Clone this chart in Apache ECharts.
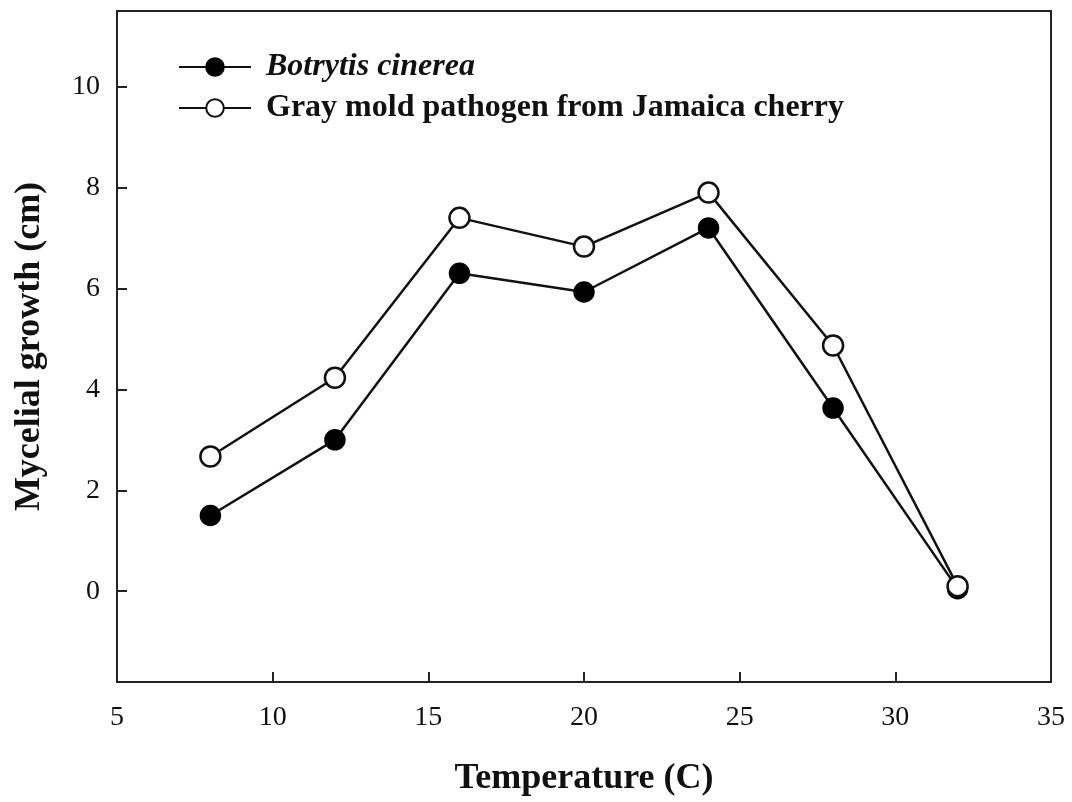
<!DOCTYPE html>
<html lang="en">
<head>
  <meta charset="UTF-8">
  <title>Mycelial growth vs temperature - ECharts</title>
  <script src="https://cdn.jsdelivr.net/npm/echarts@6.0.0/dist/echarts.min.js"></script>
  <style>
    body { margin: 0; background: #fff; }
  </style>
</head>
<body>
  <!-- Chart container -->
  <div id="main" style="width: 1072px; height: 802px;"></div>

  <script>
    // Temperatures (C) and growth values
    const temperatures = [8, 12, 16, 20, 24, 28, 32];
    const botrytisGrowth = [1.5, 3.0, 6.3, 5.93, 7.2, 3.63, 0.05];
    const jamaicaGrowth = [2.67, 4.23, 7.4, 6.83, 7.9, 4.87, 0.1];
    const yTicks = [0, 2, 4, 6, 8, 10];

    const serif = '"Liberation Serif", "DejaVu Serif", serif';
    const frame = { color: '#222', width: 2 };

    const toPairs = (xs, ys) => xs.map((x, i) => [x, ys[i]]);

    let myChart = echarts.init(document.getElementById('main'));

    const options = {
      animation: false,
      backgroundColor: '#fff',
      grid: { left: 117, right: 21, top: 11, bottom: 119 },
      legend: {
        orient: 'vertical',
        left: 178,
        top: 51,
        padding: 0,
        itemWidth: 72,
        itemHeight: 22,
        itemGap: 9,
        textStyle: {
          fontFamily: serif,
          fontSize: 32,
          fontWeight: 'bold',
          color: '#111',
          padding: [0, 0, 0, 10]
        },
        data: [
          { name: 'Botrytis cinerea', textStyle: { fontStyle: 'italic' } },
          { name: 'Gray mold pathogen from Jamaica cherry' }
        ]
      },
      xAxis: [
        {
          type: 'value',
          min: 5,
          max: 35,
          interval: 5,
          name: 'Temperature (C)',
          nameLocation: 'middle',
          nameGap: 79,
          nameTextStyle: { fontFamily: serif, fontSize: 36, fontWeight: 'bold', color: '#111' },
          axisLine: { show: true, onZero: false, lineStyle: frame },
          axisTick: { show: true, inside: true, length: 10, lineStyle: frame },
          axisLabel: { fontFamily: serif, fontSize: 28, color: '#111', margin: 22 },
          splitLine: { show: false }
        },
        {
          // top edge of the frame
          type: 'value', min: 5, max: 35, position: 'top',
          axisLine: { show: true, onZero: false, lineStyle: frame },
          axisTick: { show: false }, axisLabel: { show: false }, splitLine: { show: false }
        }
      ],
      yAxis: [
        {
          type: 'value',
          min: -1.8,
          max: 11.5,
          name: 'Mycelial growth (cm)',
          nameLocation: 'middle',
          nameGap: 69,
          nameTextStyle: { fontFamily: serif, fontSize: 36, fontWeight: 'bold', color: '#111' },
          axisLine: { show: true, onZero: false, lineStyle: frame },
          axisTick: { show: true, inside: true, length: 10, customValues: yTicks, lineStyle: frame },
          axisLabel: { fontFamily: serif, fontSize: 28, color: '#111', margin: 17, customValues: yTicks },
          splitLine: { show: false }
        },
        {
          // right edge of the frame
          type: 'value', min: -1.8, max: 11.5, position: 'right',
          axisLine: { show: true, onZero: false, lineStyle: frame },
          axisTick: { show: false }, axisLabel: { show: false }, splitLine: { show: false }
        }
      ],
      series: [
        {
          name: 'Botrytis cinerea',
          type: 'line',
          data: toPairs(temperatures, botrytisGrowth),
          symbol: 'circle',
          symbolSize: 20,
          lineStyle: { color: '#111', width: 2.5 },
          itemStyle: { color: '#000', borderColor: '#000', borderWidth: 1.5 },
          z: 3
        },
        {
          name: 'Gray mold pathogen from Jamaica cherry',
          type: 'line',
          data: toPairs(temperatures, jamaicaGrowth),
          symbol: 'circle',
          symbolSize: 20,
          lineStyle: { color: '#111', width: 2.5 },
          itemStyle: { color: '#fff', borderColor: '#111', borderWidth: 2.5 },
          z: 4
        }
      ]
    };

    myChart.setOption(options);
  </script>
</body>
</html>
